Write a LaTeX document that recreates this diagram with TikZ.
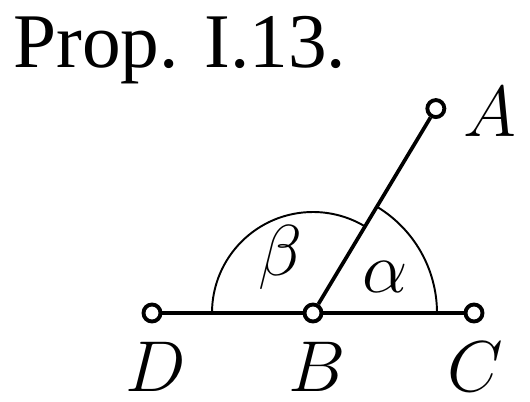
\RequirePackage{fix-cm}
\documentclass[tikz,border=0pt]{standalone}
\usepackage{fontspec}
\newfontfamily\titlefont{Liberation Serif}
\usetikzlibrary{positioning}

\begin{document}
\begin{tikzpicture}[
  pt/.style={circle, draw=black, fill=white, line width=2.2pt,
             minimum size=3.4mm, inner sep=0pt},
  seg/.style={line width=2.1pt, draw=black},
  angarc/.style={line width=1.1pt, draw=black},
  lab/.style={font=\fontsize{41}{48}\selectfont, inner sep=0pt},
  title/.style={font=\titlefont\fontsize{44}{52}\selectfont, anchor=base west, inner sep=0pt}
]
\useasboundingbox (-6.26,-1.76) rectangle (4.34,6.26);

% title
\node[title] (t) at (-6.0,4.92) {Prop. I.13.};

% points
\node[pt] (B) at (0,0) {};
\node[pt] (D) at (-3.22,0) {};
\node[pt] (C) at (3.22,0) {};
\node[pt] (A) at (59:4.77) {};

% angles
\draw[angarc] (B.center) ++(180:2.02) arc[start angle=180, end angle=59, radius=2.02];
\draw[angarc] (B.center) ++(0:2.48) arc[start angle=0, end angle=59, radius=2.48];

% lines
\draw[seg] (D) -- (B); \draw[seg] (B) -- (C); \draw[seg] (B) -- (A);

% labels
\node[lab] (lA) at (3.54,4.02) {$A$};
\node[lab] (lD) at (-3.14,-1.08) {$D$};
\node[lab] (lB) at (0.08,-1.08) {$B$};
\node[lab] (lC) at (3.24,-1.08) {$C$};
\node[lab] (lbeta) at (-0.66,1.12) {$\beta$};
\node[lab] (lalpha) at (1.44,0.72) {$\alpha$};
\end{tikzpicture}
\end{document}
